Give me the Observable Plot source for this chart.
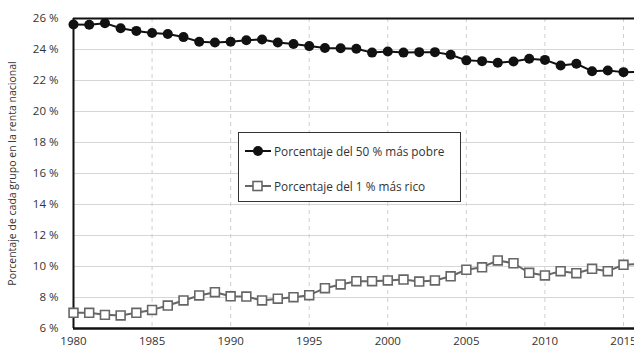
<!DOCTYPE html>
<html><head><meta charset="utf-8">
<script src="https://cdn.jsdelivr.net/npm/d3@7"></script>
<script src="https://cdn.jsdelivr.net/npm/@observablehq/plot@0.6"></script>
<style>
html,body{margin:0;padding:0;background:#fff;overflow:hidden;}
#wrap{position:relative;width:634px;height:353px;}
svg{overflow:visible;}
#legend{position:absolute;left:238px;top:132px;width:223px;height:70px;border:1.5px solid #333;background:#fff;font-family:"Open Sans",sans-serif;font-size:11.8px;color:#333;box-sizing:border-box;}
#legend .row{position:absolute;left:6px;display:flex;align-items:center;white-space:nowrap;}
#legend svg{margin-right:3px;}
</style></head>
<body><div id="wrap"><div id="chart"></div>
<div id="legend">
<div class="row" style="top:10px"><svg width="26" height="12"><line x1="0" y1="6" x2="26" y2="6" stroke="#111" stroke-width="2"/><circle cx="13" cy="6" r="5" fill="#111"/></svg><span>Porcentaje del 50 % más pobre</span></div>
<div class="row" style="top:45px"><svg width="26" height="12"><line x1="0" y1="6" x2="26" y2="6" stroke="#666" stroke-width="2"/><rect x="8" y="1.5" width="9" height="9" fill="#fff" stroke="#666" stroke-width="1.6"/></svg><span>Porcentaje del 1 % más rico</span></div>
</div></div>
<script>
const years = d3.range(1980, 2017);
const bottom50 = [25.61,25.6,25.7,25.37,25.2,25.07,25.0,24.8,24.5,24.45,24.5,24.6,24.65,24.45,24.35,24.22,
  24.1,24.08,24.05,23.8,23.87,23.8,23.83,23.83,23.66,23.3,23.25,23.14,23.23,23.4,23.33,22.97,23.08,22.6,22.65,22.54,22.55];
const top1 = [7.01,7.01,6.88,6.84,7.01,7.2,7.48,7.81,8.13,8.34,8.08,8.06,7.81,7.92,8.02,8.15,
  8.6,8.84,9.05,9.05,9.1,9.16,9.03,9.1,9.37,9.79,9.95,10.39,10.21,9.59,9.42,9.7,9.57,9.85,9.7,10.11,10.17];
const yTicks = [6,8,10,12,14,16,18,20,22,24,26];
const xTicks = [1980,1985,1990,1995,2000,2005,2010,2015];
const yLabel = "Porcentaje de cada grupo en la renta nacional";

const dataA = years.map((y,i)=>({year:y, v:bottom50[i]}));
const dataB = years.map((y,i)=>({year:y, v:top1[i]}));

const chart = Plot.plot({
  width: 634, height: 353,
  marginLeft: 73, marginRight: 0, marginTop: 18, marginBottom: 25,
  style: {fontFamily: '"Open Sans", sans-serif', fontSize: "12px", color: "#333", background: "#fff"},
  x: {domain: [1980, 2015.7]},
  y: {domain: [6, 26]},
  marks: [
    Plot.ruleY(yTicks, {stroke: "#d6d6d6", strokeWidth: 1}),
    Plot.ruleX(xTicks.slice(1), {stroke: "#cfcfcf", strokeWidth: 1, strokeDasharray: "4,4"}),
    Plot.axisX({ticks: xTicks, tickFormat: d => String(d), tickSize: 0, tickPadding: 8, label: null, fontSize: 11.5}),
    Plot.axisY({ticks: yTicks, tickFormat: d => d + " %", tickSize: 0, tickPadding: 15, label: null, fontSize: 11.5}),
    Plot.text([yLabel], {frameAnchor: "left", textAnchor: "middle", rotate: -90, dx: -61, fontSize: 10.5, fill: "#333"}),
    Plot.ruleY([6], {stroke: "#111", strokeWidth: 2.5}),
    Plot.ruleY([26], {stroke: "#111", strokeWidth: 2}),
    Plot.ruleX([1980], {stroke: "#111", strokeWidth: 2}),
    Plot.line(dataA, {x: "year", y: "v", stroke: "#111", strokeWidth: 2}),
    Plot.dot(dataA, {x: "year", y: "v", r: 5, fill: "#111", stroke: "none"}),
    Plot.line(dataB, {x: "year", y: "v", stroke: "#666", strokeWidth: 2}),
    Plot.dot(dataB, {x: "year", y: "v", symbol: "square", r: 5, fill: "#fff", stroke: "#666", strokeWidth: 1.6})
  ]
});
document.getElementById("chart").appendChild(chart);
</script>
</body></html>
